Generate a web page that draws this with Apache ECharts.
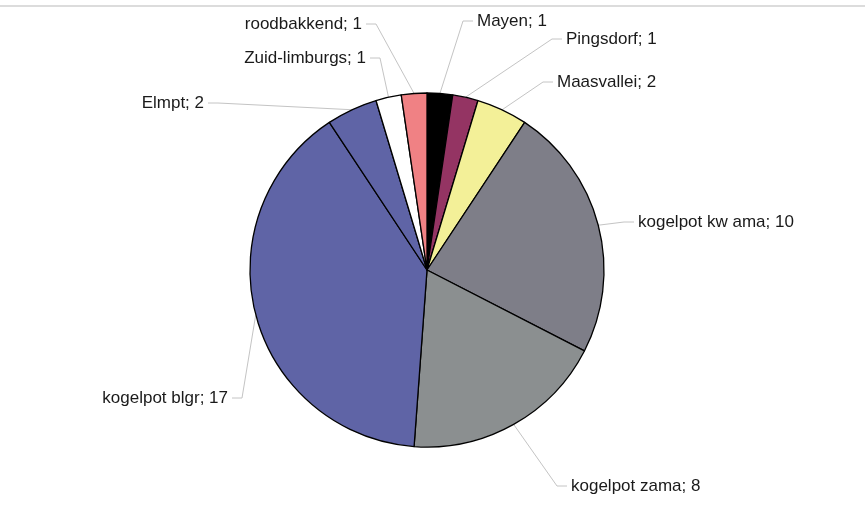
<!DOCTYPE html>
<html>
<head>
<meta charset="utf-8">
<script src="https://cdn.jsdelivr.net/npm/echarts@6/dist/echarts.min.js"></script>
<style>
  html, body { margin: 0; padding: 0; background: #ffffff; }
  #chart { width: 865px; height: 526px; }
</style>
</head>
<body>
<div id="chart"></div>
<script>
// Categories and counts, clockwise from 12 o'clock
const categories = ['Mayen', 'Pingsdorf', 'Maasvallei', 'kogelpot kw ama', 'kogelpot zama',
                    'kogelpot blgr', 'Elmpt', 'Zuid-limburgs', 'roodbakkend'];
const counts = [1, 1, 2, 10, 8, 17, 2, 1, 1];
const sliceColors = ['#000000', '#943463', '#F3F098', '#7E7E88', '#8B8F90',
                     '#5F64A6', '#5F64A6', '#FFFFFF', '#F08184'];

// Label anchors: [text x, text y, side]; side 'r' = text right of the leader line
const labelAnchors = [
  [477, 21, 'r'],
  [566, 39, 'r'],
  [557, 82, 'r'],
  [638, 222, 'r'],
  [571, 486, 'r'],
  [228, 398, 'l'],
  [204, 103, 'l'],
  [366, 58, 'l'],
  [362, 24, 'l']
];

const CX = 427, CY = 270, R = 177;

const chart = echarts.init(document.getElementById('chart'), null, { renderer: 'canvas' });

const data = categories.map((name, i) => ({
  name: name,
  value: counts[i],
  itemStyle: { color: sliceColors[i] }
}));

chart.setOption({
  animation: false,
  backgroundColor: '#ffffff',
  graphic: [{
    type: 'line',
    shape: { x1: 0, y1: 6, x2: 865, y2: 6 },
    style: { stroke: '#dcdcdc', lineWidth: 2 },
    silent: true
  }],
  series: [{
    type: 'pie',
    center: [CX, CY],
    radius: R,
    startAngle: 90,
    clockwise: true,
    avoidLabelOverlap: false,
    data: data,
    itemStyle: { borderColor: '#000000', borderWidth: 1.3 },
    emphasis: { disabled: true },
    label: {
      show: true,
      position: 'outside',
      formatter: '{b}; {c}',
      fontFamily: 'Liberation Sans, Arial, sans-serif',
      fontSize: 17,
      color: '#1a1a1a'
    },
    labelLine: {
      show: true,
      length: 10,
      length2: 10,
      lineStyle: { color: '#c4c4c4', width: 1 }
    },
    labelLayout: function (params) {
      const a = labelAnchors[params.dataIndex];
      const right = a[2] === 'r';
      // leader starts on the rim at the slice's mid angle
      let start = params.labelLinePoints && params.labelLinePoints[0];
      if (!start) {
        const total = counts.reduce((s, v) => s + v, 0);
        let cum = 0;
        for (let k = 0; k < params.dataIndex; k++) cum += counts[k];
        const ang = (cum + counts[params.dataIndex] / 2) / total * 2 * Math.PI;
        start = [CX + R * Math.sin(ang), CY - R * Math.cos(ang)];
      }
      const gap = 4, seg = 10;
      const end = [right ? a[0] - gap : a[0] + gap, a[1]];
      const elbow = [right ? end[0] - seg : end[0] + seg, a[1]];
      return {
        x: a[0],
        y: a[1],
        align: right ? 'left' : 'right',
        verticalAlign: 'middle',
        labelLinePoints: [start, elbow, end]
      };
    }
  }]
});
</script>
</body>
</html>
